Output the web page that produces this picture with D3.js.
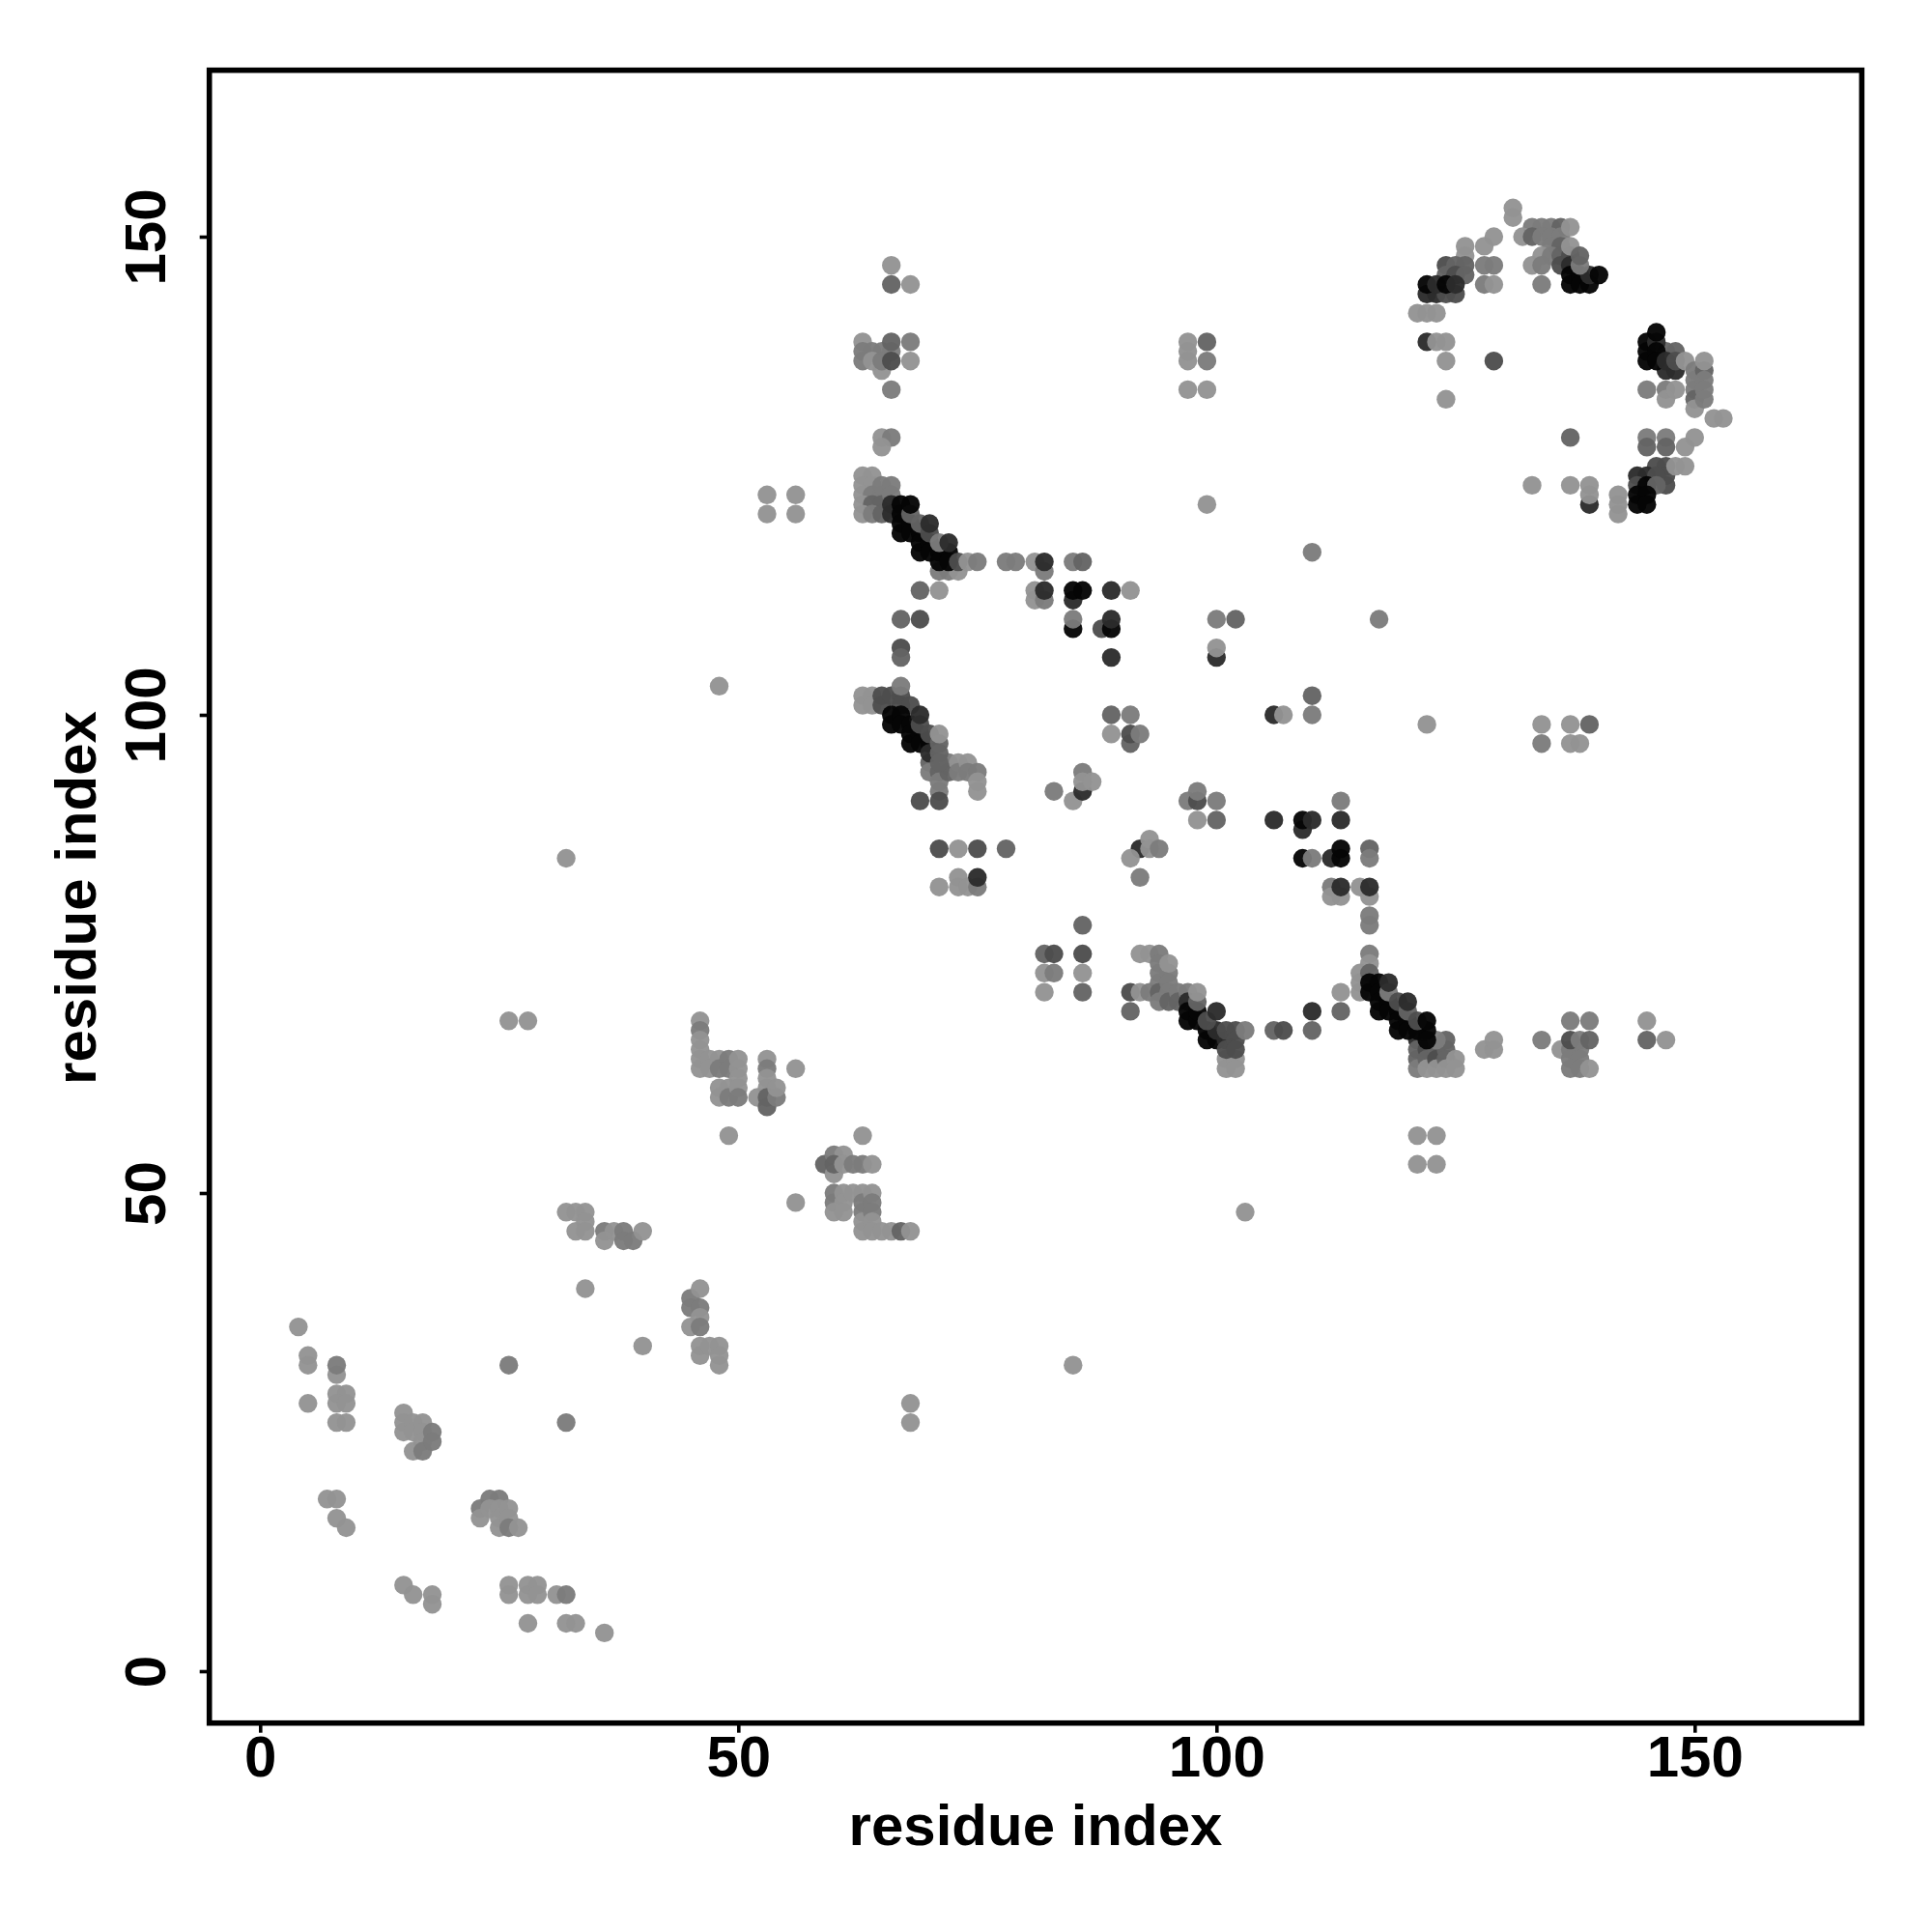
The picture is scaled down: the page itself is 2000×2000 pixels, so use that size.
<!DOCTYPE html>
<html><head><meta charset="utf-8">
<script src="https://cdn.jsdelivr.net/npm/d3@7"></script>
<style>html,body{margin:0;padding:0;background:#fff}svg{display:block}</style>
</head><body><svg id="c" width="2000" height="2000"></svg>
<script>
// each contact: [residue i, residue j, strength 1-6]; later entries draw on top
const lowerLeft=[[4,36,1],[5,33,1],[5,32,1],[5,28,1],[8,31,1],[8,32,2],[8,29,1],[9,29,1],[8,28,1],[9,28,1],[8,26,1],[9,26,1],
[15,27,1],[15,26,1],[15,25,1],[16,26,1],[16,25,1],[16,23,1],[17,26,1],[17,25,1],[17,24,1],[17,23,2],[18,25,2],[18,24,2],
[7,18,1],[8,18,1],[8,16,1],[9,15,1],
[23,17,2],[23,16,1],[24,18,2],[25,18,2],[24,17,1],[25,17,1],[25,16,1],[25,15,1],[26,17,1],[26,16,1],[26,15,2],[27,15,1],
[15,9,1],[16,8,1],[18,8,1],[18,7,1],[26,9,1],[26,8,1],[28,9,1],[28,8,1],[29,9,1],[29,8,1],[31,8,1],[32,8,2],[28,5,1],[32,5,1],[33,5,1],[36,4,1],
[26,32,2],[32,26,2],[34,40,1],[40,34,1],
[32,48,1],[33,48,1],[34,48,1],[34,47,1],[33,46,1],[34,46,1],[36,46,2],[36,45,1],[37,46,1],[38,46,2],[38,45,2],[39,45,2],[40,46,1],
[45,39,2],[45,38,2],[45,36,1],[46,38,2],[46,37,1],[46,36,2],[46,40,1],[46,34,1],[46,33,1],[47,34,1],[48,34,1],[48,33,1],[48,32,1]];
const midBlocks=[[46,68,1],[46,67,2],[46,66,1],[46,65,1],[46,64,1],[46,63,1],[47,64,1],[47,63,1],[48,64,1],[48,63,2],[49,64,2],[49,63,2],[50,64,1],[50,63,1],[50,62,1],
[48,61,1],[48,60,1],[49,61,1],[49,60,2],[50,61,1],[50,60,2],
[53,64,1],[53,63,2],[53,62,1],[53,61,1],[52,60,1],[53,59,3],[53,60,3],[54,60,2],[54,61,1],[56,63,1],[49,56,1],
[63,56,1],[59,53,3],[60,54,2],[61,54,1],[60,52,1],[60,53,3],[61,53,1],[62,53,2],[63,53,2],[64,53,1],
[60,50,2],[60,49,2],[60,48,1],[61,50,1],[61,49,1],[61,48,1],[62,50,1],[63,50,1],[63,49,2],[63,48,2],[63,47,1],[63,46,1],[64,50,1],[64,49,2],[64,48,2],[64,47,1],[64,46,1],[65,46,1],[66,46,1],[67,46,3],[68,46,1],[56,49,1]];
const helixA=[[63,125,1],[64,125,1],[63,124,1],[64,124,1],[63,123,1],[64,123,2],[65,123,2],[63,122,1],[64,122,3],[65,122,3],[63,121,1],[64,121,2],[65,121,3],[65,124,2],[66,124,2],[66,123,2],[66,122,5],[66,121,5],
[71,115,2],[72,115,2],[73,115,1],
[67,122,6],[67,121,6],[67,120,6],[67,119,6],[68,120,6],[68,119,6],[69,119,6],[69,118,6],[69,117,6],[70,118,6],[70,117,6],[71,117,6],[71,116,6],[72,117,6],[72,116,6],
[68,121,3],[69,120,3],[70,119,4],[71,118,2],[68,122,6],[70,120,5],[72,118,5],[73,116,4],[74,116,1],[75,116,2]];
const helixB=[[63,102,1],[63,101,1],[64,102,1],[64,101,1],[65,102,4],[65,101,4],[66,102,4],[67,102,4],[67,101,4],[68,101,4],
[70,95,3],[70,94,2],[71,94,3],[71,93,2],[71,92,2],[71,91,4],[72,95,2],[72,94,3],[73,95,1],[73,94,2],[74,95,1],[74,94,2],[75,94,2],[75,93,1],[75,92,1],
[66,100,6],[66,99,6],[67,100,6],[67,99,6],[68,99,6],[68,98,6],[68,97,6],[69,98,6],[69,97,6],[70,97,6],[70,96,5],[69,99,4],[70,98,4],[71,97,3],[71,96,3],[71,95,3],[67,103,2],[69,100,5],[71,98,1],
[67,107,4],[67,106,3],[69,91,4],[71,86,4],[73,86,1],[75,86,4],[78,86,3],[71,82,1],[73,83,1],[73,82,1],[74,82,1],[75,82,2],[75,83,5]];
const middle=[[65,129,1],[66,129,2],[65,128,1],[65,136,1],[63,139,1],[63,138,2],[64,138,2],[65,138,2],[66,138,2],[63,137,2],[64,137,1],[65,137,2],[66,137,4],[66,139,3],[68,139,2],[68,137,1],[66,134,2],[66,147,1],[66,145,3],[68,145,1],
[78,116,2],[79,116,2],[81,116,1],[82,115,2],[82,116,5],[85,116,2],[86,116,3],
[69,113,3],[71,113,1],[81,113,1],[81,112,1],[82,112,2],[82,113,5],[85,112,5],[85,113,6],[86,113,6],[89,113,5],[91,113,1],
[67,110,3],[69,110,4],[85,109,6],[85,110,2],[88,109,4],[89,109,6],[89,110,5],[89,106,5],
[53,123,1],[53,121,1],[56,123,1],[56,121,1],[48,103,1],[32,85,1],[26,68,1],[28,68,1],[68,28,1],[68,26,1],[85,32,1],[103,48,1],[121,56,1],[123,56,1],[121,53,1],[123,53,1],
[83,92,2],[85,91,1],[86,92,5],[86,94,2],[86,93,1],[87,93,1],
[89,100,3],[91,100,2],[89,98,1],[91,97,3],[91,98,4],[92,98,2],
[100,110,2],[102,110,3],[100,106,5],[100,107,1],[110,117,2],[117,110,2],[99,122,1],
[97,139,1],[99,139,3],[97,138,1],[97,137,1],[99,137,2],[97,134,1],[99,134,1],
[106,100,5],[107,100,1],[110,102,3],[110,100,2],
[97,91,2],[98,91,4],[98,92,2],[100,91,2],[98,89,1],[100,89,3],
[106,89,5],[109,88,5],[109,89,6],[110,89,5],[113,91,2],[113,89,5],
[92,86,5],[93,87,1],[93,86,1],[94,86,2],[91,85,1],[92,83,2],
[109,85,6],[110,85,2],[112,85,5],[113,85,6],[113,86,6],[116,86,3],[116,85,2],
[112,82,2],[112,81,1],[113,81,1],[113,82,5],[115,82,1],[116,81,1],[116,82,5],[116,79,2],[116,78,2],
[86,78,3],[86,75,4],[86,73,1],[86,71,3],[82,75,3],[83,75,4],[82,73,1],[83,73,2],[82,71,1]];
const helixC=[[91,71,4],[91,69,3],[92,75,1],[93,75,1],[94,75,2],[94,74,2],[94,73,2],[94,72,2],[92,71,1],[93,71,2],[94,71,3],[94,70,2],[95,73,2],[95,72,2],[95,71,2],[95,70,3],[96,71,2],[96,70,3],[95,74,1],[97,71,2],
[101,64,1],[101,63,1],[102,64,1],[102,63,1],
[97,70,5],[97,69,6],[97,68,6],[98,68,6],[98,69,6],[99,67,6],[99,66,6],[100,66,6],[100,67,5],[101,66,5],[101,67,4],[101,65,4],[102,67,4],[102,66,4],[102,65,4],[99,68,4],[98,70,3],[98,71,1],[100,69,5],[103,67,2],
[106,67,3],[107,67,4],[110,69,5],[110,67,3],[113,71,1],[113,69,3]];
const helixD=[[115,73,1],[115,72,1],[115,71,1],[116,75,2],[116,74,1],[116,73,3],
[121,66,5],[121,65,3],[121,64,3],[121,63,2],[122,65,4],[122,64,3],[122,63,1],[123,65,3],[123,64,4],[123,63,1],[124,66,3],[124,65,3],[124,64,3],[124,63,1],[125,64,1],[125,63,1],[123,66,2],
[116,72,6],[116,71,6],[117,72,6],[117,71,6],[117,70,6],[117,69,6],[118,70,6],[118,69,6],[119,69,6],[119,68,6],[119,67,6],[120,68,6],[120,67,6],[121,67,6],[122,67,6],[122,66,6],
[118,71,2],[119,70,4],[120,69,3],[121,68,4],[118,72,5],[120,70,5],[122,68,6],
[128,65,1],[129,65,1],[129,66,1],[134,66,2],
[136,65,1],[137,65,2],[138,65,2],[137,64,2],[138,64,2],[137,63,2],[138,63,2],[137,66,4],[138,66,2],[139,63,1],[139,66,3],[137,68,2],[139,68,2],[145,68,1],[145,66,3],[147,66,1],
[122,99,1],[134,99,1],[134,97,2],[137,99,1],[139,99,3],[137,97,1],[138,97,1]];
const arcTop=[[131,153,1],[131,152,1],[133,151,2],[134,151,2],[135,151,2],[136,151,3],[132,150,1],[133,150,3],[134,150,2],[135,150,2],[136,150,2],[137,151,1],
[135,149,2],[136,149,3],[134,148,1],[135,148,2],[136,148,3],[133,147,1],[134,147,2],[136,147,4],
[137,148,4],[137,147,5],[137,146,6],[137,145,6],[138,146,6],[138,145,6],[139,145,6],[139,146,5],[140,146,6],[138,147,2],[137,149,1],[138,148,3],[134,145,2],
[128,149,1],[129,150,1],[126,149,1],[126,148,1],[128,147,2],[129,147,2],[128,145,2],[129,145,1],
[121,142,1],[122,142,1],[123,142,1],[122,139,5],[123,139,1],[124,139,1],[124,137,1],[129,137,4],[124,133,1],
[124,147,4],[125,147,3],[126,147,3],[124,146,3],[125,146,4],[126,146,3],[122,144,5],[123,144,5],[124,144,4],[125,144,4],[122,145,6],[123,145,5],[124,145,6],[125,145,5]];
const arcRight=[[148,138,3],[147,138,3],[147,136,5],[148,136,5],[145,139,6],[145,138,6],[145,137,6],[146,139,5],[146,138,6],[146,137,6],[147,137,5],[148,137,4],[146,140,6],[149,137,1],
[145,134,2],[147,134,2],[147,133,1],[148,134,1],[150,136,2],[150,135,2],[150,134,2],[150,133,3],[150,132,1],[151,136,3],[151,135,2],[151,134,2],[151,133,2],[151,137,1],[152,131,1],[153,131,1],
[137,129,3],[145,129,2],[145,128,3],[147,129,2],[147,128,3],[150,129,1],[149,128,1],
[146,126,4],[147,126,4],[147,125,4],[147,124,4],[148,126,1],[149,126,1],
[144,125,5],[145,125,5],[146,125,4],[144,124,4],[145,124,6],[146,124,3],[144,123,6],[145,123,6],[144,122,6],[145,122,6],
[133,124,1],[137,124,1],[139,122,5],[139,124,1],[139,123,1],[142,121,1],[142,122,1],[142,123,1]];

const xTicks=[0,50,100,150], yTicks=[0,50,100,150];
const axisLabel="residue index";
const contacts=[].concat(lowerLeft,midBlocks,helixA,helixB,middle,helixC,helixD,arcTop,arcRight);

const svg=d3.select("#c");
const x=d3.scaleLinear().domain([0,150]).range([269.3,1754.3]);
const y=d3.scaleLinear().domain([0,150]).range([1730,245]);
const gray=d3.scaleLinear().domain([1,2,3,4,5,6]).range(["#939393","#7c7c7c","#646464","#4d4d4d","#2c2c2c","#050505"]);
const font='"Liberation Sans",Arial,sans-serif';

svg.append("g").selectAll("circle").data(contacts).join("circle")
  .attr("cx",d=>x(d[0])).attr("cy",d=>y(d[1])).attr("r",9.7)
  .attr("fill",d=>gray(d[2])).attr("fill-opacity",0.96);

svg.append("rect").attr("x",216.7).attr("y",72.7).attr("width",1710.6).attr("height",1711)
  .attr("fill","none").attr("stroke","#000").attr("stroke-width",5.6);

const gx=svg.append("g").attr("transform","translate(0,1783.7)")
  .call(d3.axisBottom(x).tickValues(xTicks).tickSize(10).tickPadding(0).tickFormat(d3.format("d")));
const gy=svg.append("g").attr("transform","translate(216.7,0)")
  .call(d3.axisLeft(y).tickValues(yTicks).tickSize(10).tickPadding(0).tickFormat(d3.format("d")));
[gx,gy].forEach(g=>{g.select(".domain").remove();
  g.selectAll(".tick line").attr("stroke","#000").attr("stroke-width",3.6);
  g.selectAll(".tick text").attr("fill","#000").style("font-family",font).style("font-weight","bold").style("font-size","60px");});
gx.selectAll(".tick text").attr("y",55.5).attr("dy",0);
gy.selectAll(".tick text").attr("x",null).attr("y",null).attr("dy",0)
  .attr("text-anchor","middle").attr("transform","translate(-45.7,0) rotate(-90)");

svg.append("text").attr("x",1072).attr("y",1910).attr("text-anchor","middle")
  .style("font-family",font).style("font-weight","bold").style("font-size","60px").text(axisLabel);
svg.append("text").attr("text-anchor","middle").attr("transform","translate(99,929.5) rotate(-90)")
  .style("font-family",font).style("font-weight","bold").style("font-size","60px").text(axisLabel);
</script></body></html>
